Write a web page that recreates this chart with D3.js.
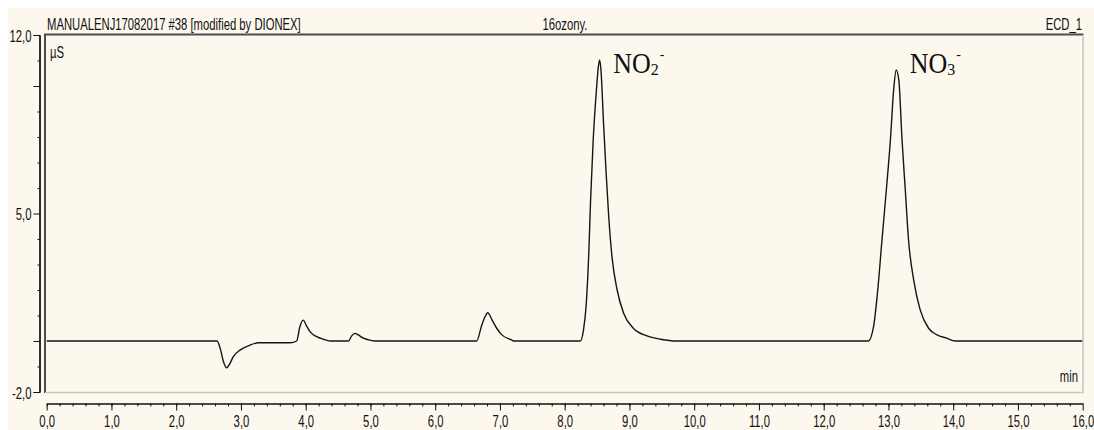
<!DOCTYPE html>
<html>
<head>
<meta charset="utf-8">
<script src="https://cdn.jsdelivr.net/npm/d3@7"></script>
<style>
  body { margin: 0; background: #fff; }
  svg { display: block; }
</style>
</head>
<body>
<svg id="chart" width="1094" height="430"></svg>
<script>
// trace (min, µS)
const time = [0.0, 2.63, 2.68, 2.73, 2.78, 2.83, 2.88, 2.99, 3.14, 3.27, 3.76, 3.86, 3.91, 3.96, 4.02, 4.07, 4.17, 4.27, 4.38,
  4.66, 4.71, 4.76, 4.81, 4.89, 4.94, 5.07,
  6.64, 6.72, 6.77, 6.81, 6.88, 6.95, 7.03, 7.18, 7.21,
  8.24, 8.29, 8.33, 8.37, 8.40, 8.44, 8.49, 8.52, 8.54, 8.56, 8.60, 8.64, 8.68, 8.73, 8.81, 8.91, 9.06, 9.27, 9.48, 9.73,
  12.69, 12.77, 12.83, 12.90, 12.97, 13.03, 13.08, 13.12, 13.16, 13.21, 13.26, 13.31, 13.39, 13.49, 13.62, 13.75, 13.90, 14.03,
  16.0]
const signal = [0, 0, -0.29, -0.81, -1.05, -0.88, -0.62, -0.35, -0.16, -0.07, -0.07, 0, 0.56, 0.82, 0.56, 0.36, 0.17, 0.07, 0,
  0, 0.20, 0.30, 0.24, 0.11, 0.07, 0,
  0, 0.63, 0.95, 1.11, 0.82, 0.50, 0.24, 0.04, 0,
  0, 0.43, 1.35, 3.31, 5.53, 7.88, 9.84, 10.76, 11.02, 10.63, 8.54, 6.58, 4.87, 3.31, 2.00, 1.09, 0.50, 0.20, 0.07, 0,
  0, 0.56, 1.87, 3.96, 6.00, 7.88, 9.84, 10.63, 10.24, 7.88, 5.92, 3.96, 2.39, 1.22, 0.50, 0.24, 0.11, 0,
  0]

const peakTimes = [8.54, 13.12]
const peakIons = ['NO', 'NO']
const peakSub = ['2', '3']
const peakCharge = ['-', '-']

const xMajor = [0, 1, 2, 3, 4, 5, 6, 7, 8, 9, 10, 11, 12, 13, 14, 15, 16]
const xMinor = d3.range(0, 80).map(i => i / 5)
const yLabelled = [12, 5, -2]
const yMid = [10, 0]
const yMinor = [11, 9, 8, 7, 6, 4, 3, 2, 1, -1]

const header = 'MANUALENJ17082017 #38 [modified by DIONEX]'
const sampleName = '16ozony.'
const channel = 'ECD_1'

const W = 1094, H = 430
const svg = d3.select('#chart')
const fmt = d => d.toFixed(1).replace('.', ',')

svg.append('rect')
  .attr('x', 8).attr('y', 8).attr('width', W - 8).attr('height', H - 8)
  .attr('fill', '#fdf8ee')

const x = d3.scaleLinear().domain([0, 16]).range([46.7, 1082.7])
const y = d3.scaleLinear().domain([-2, 12]).range([392, 35])

// the print uses a tall condensed font, squeeze a normal one to the same width
const narrowFont = '"Liberation Sans", Arial, sans-serif'
const probe = svg.append('text').style('font-family', narrowFont).style('font-size', '16px').text(header)
const sx = 254 / probe.node().getComputedTextLength()
const sy = 1.08
probe.remove()

function note (txt, px, py, anchor) {
  return svg.append('text')
    .attr('transform', `translate(${px},${py}) scale(${sx},${sy})`)
    .attr('text-anchor', anchor || 'start')
    .style('font-family', narrowFont).style('font-size', '16px')
    .attr('fill', '#111')
    .text(txt)
}

// x axis
const xAxis = svg.append('g').attr('transform', 'translate(0,403.5)')
xAxis.call(d3.axisBottom(x).tickValues(xMinor).tickSize(3).tickSizeOuter(0).tickFormat(''))
xAxis.append('g').call(d3.axisBottom(x).tickValues(xMajor).tickSize(7).tickSizeOuter(0).tickFormat(fmt))
xAxis.selectAll('text')
  .attr('y', null).attr('dy', null)
  .attr('transform', `translate(0,23) scale(${sx},${sy})`)
  .style('font-family', narrowFont).style('font-size', '16px')
  .attr('fill', '#111')

// y axis
const yAxis = svg.append('g').attr('transform', 'translate(39.5,0)')
yAxis.call(d3.axisLeft(y).tickValues(yMinor).tickSize(2).tickSizeOuter(0).tickFormat(''))
yAxis.append('g').call(d3.axisLeft(y).tickValues(yMid).tickSize(6).tickSizeOuter(0).tickFormat(''))
yAxis.append('g').call(d3.axisLeft(y).tickValues(yLabelled).tickSize(6).tickPadding(2).tickFormat(fmt))
yAxis.selectAll('text')
  .attr('x', null).attr('dy', '0.36em')
  .attr('transform', `translate(-8,0) scale(${sx},${sy})`)
  .style('font-family', narrowFont).style('font-size', '16px')
  .attr('fill', '#111')

svg.selectAll('.domain, .tick line').attr('stroke', '#111')

// trace
const line = d3.line()
  .x((d, i) => x(time[i]))
  .y(d => y(d))
  .curve(d3.curveMonotoneX)

svg.append('path')
  .datum(signal)
  .attr('d', line)
  .attr('fill', 'none')
  .attr('stroke', '#151515')
  .attr('stroke-width', 1.4)
  .attr('stroke-linejoin', 'round')

// sunken frame
svg.append('line').attr('x1', 44).attr('x2', 1083.5).attr('y1', 34.5).attr('y2', 34.5)
  .attr('stroke', '#4d4d4d').attr('stroke-width', 2)
svg.append('line').attr('x1', 45).attr('x2', 45).attr('y1', 34).attr('y2', 393)
  .attr('stroke', '#4d4d4d').attr('stroke-width', 2)
svg.append('line').attr('x1', 45).attr('x2', 1083.5).attr('y1', 392.5).attr('y2', 392.5)
  .attr('stroke', '#c6c4be').attr('stroke-width', 1.5)
svg.append('line').attr('x1', 1083).attr('x2', 1083).attr('y1', 35).attr('y2', 393)
  .attr('stroke', '#c6c4be').attr('stroke-width', 1.5)

// header and units
note(header, 47, 29.5)
note(sampleName, 565, 29.5, 'middle')
note(channel, 1082, 29.5, 'end')
note('µS', 50, 57.5)
note('min', 1078, 381.5, 'end')

// peak names
const lbl = svg.append('g').selectAll('text')
  .data(peakTimes)
  .join('text')
  .attr('transform', d => `translate(${x(d) + 13.5},72.5) scale(1,1.1)`)
  .style('font-family', '"Liberation Serif", "Times New Roman", serif')
  .attr('fill', '#111')
lbl.append('tspan').style('font-size', '26px').text((d, i) => peakIons[i])
lbl.append('tspan').style('font-size', '16px').attr('dy', 2.3).text((d, i) => peakSub[i])
lbl.append('tspan').style('font-size', '14px').attr('dx', 1).attr('dy', -15).text((d, i) => peakCharge[i])
</script>
</body>
</html>
